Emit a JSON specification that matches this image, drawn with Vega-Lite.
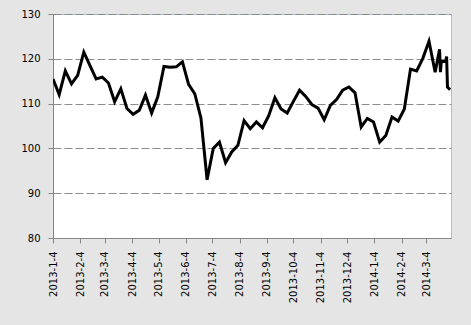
{
  "$schema": "https://vega.github.io/schema/vega-lite/v6.json",
  "width": 398,
  "height": 224,
  "autosize": {"type": "none"},
  "padding": {"left": 53, "top": 14, "right": 20, "bottom": 87},
  "background": "#E5E5E5",
  "config": {
    "view": {"fill": "white", "stroke": "#A7BDE4", "strokeWidth": 1},
    "axis": {"labelFont": "DejaVu Sans", "labelFontSize": 10, "labelColor": "#000000", "title": null}
  },
  "data": {
    "values": [
      {"date": "2013-01-04", "value": 115.5},
      {"date": "2013-01-11", "value": 112},
      {"date": "2013-01-18", "value": 117.3},
      {"date": "2013-01-25", "value": 114.4},
      {"date": "2013-02-01", "value": 116.3},
      {"date": "2013-02-08", "value": 121.5},
      {"date": "2013-02-15", "value": 118.5},
      {"date": "2013-02-22", "value": 115.5},
      {"date": "2013-03-01", "value": 115.9},
      {"date": "2013-03-08", "value": 114.6},
      {"date": "2013-03-15", "value": 110.4},
      {"date": "2013-03-22", "value": 113.3},
      {"date": "2013-03-29", "value": 108.9},
      {"date": "2013-04-05", "value": 107.6},
      {"date": "2013-04-12", "value": 108.5},
      {"date": "2013-04-19", "value": 111.9},
      {"date": "2013-04-26", "value": 107.9},
      {"date": "2013-05-03", "value": 111.5},
      {"date": "2013-05-10", "value": 118.3},
      {"date": "2013-05-17", "value": 118.1},
      {"date": "2013-05-24", "value": 118.2},
      {"date": "2013-05-31", "value": 119.3},
      {"date": "2013-06-07", "value": 114.3},
      {"date": "2013-06-14", "value": 112.2},
      {"date": "2013-06-21", "value": 106.8},
      {"date": "2013-06-28", "value": 93},
      {"date": "2013-07-05", "value": 100},
      {"date": "2013-07-12", "value": 101.4},
      {"date": "2013-07-19", "value": 96.8},
      {"date": "2013-07-26", "value": 99.2},
      {"date": "2013-08-02", "value": 100.7},
      {"date": "2013-08-09", "value": 106.2},
      {"date": "2013-08-16", "value": 104.4},
      {"date": "2013-08-23", "value": 105.9},
      {"date": "2013-08-30", "value": 104.6},
      {"date": "2013-09-06", "value": 107.3},
      {"date": "2013-09-13", "value": 111.3},
      {"date": "2013-09-20", "value": 108.8},
      {"date": "2013-09-27", "value": 107.9},
      {"date": "2013-10-04", "value": 110.5},
      {"date": "2013-10-11", "value": 113},
      {"date": "2013-10-18", "value": 111.6},
      {"date": "2013-10-25", "value": 109.8},
      {"date": "2013-11-01", "value": 109},
      {"date": "2013-11-08", "value": 106.4},
      {"date": "2013-11-15", "value": 109.6},
      {"date": "2013-11-22", "value": 110.9},
      {"date": "2013-11-29", "value": 113},
      {"date": "2013-12-06", "value": 113.7},
      {"date": "2013-12-13", "value": 112.4},
      {"date": "2013-12-20", "value": 104.8},
      {"date": "2013-12-27", "value": 106.7},
      {"date": "2014-01-03", "value": 105.9},
      {"date": "2014-01-10", "value": 101.4},
      {"date": "2014-01-17", "value": 102.9},
      {"date": "2014-01-24", "value": 107},
      {"date": "2014-01-31", "value": 106.1},
      {"date": "2014-02-07", "value": 108.8},
      {"date": "2014-02-14", "value": 117.7},
      {"date": "2014-02-21", "value": 117.3},
      {"date": "2014-02-28", "value": 120.1},
      {"date": "2014-03-07", "value": 123.9},
      {"date": "2014-03-14", "value": 117},
      {"date": "2014-03-19", "value": 122.1},
      {"date": "2014-03-20", "value": 117},
      {"date": "2014-03-21", "value": 119.4},
      {"date": "2014-03-26", "value": 119.4},
      {"date": "2014-03-27", "value": 120.5},
      {"date": "2014-03-28", "value": 113.7},
      {"date": "2014-03-31", "value": 113.1}
    ]
  },
  "mark": {"type": "line", "color": "#000000", "strokeWidth": 3, "clip": true},
  "encoding": {
    "x": {
      "field": "date",
      "type": "temporal",
      "scale": {
        "type": "utc",
        "domain": [
          {"year": 2013, "month": 1, "date": 4, "utc": true},
          {"year": 2014, "month": 4, "date": 1, "utc": true}
        ]
      },
      "axis": {
        "values": [
          {"year": 2013, "month": 1, "date": 4, "utc": true},
          {"year": 2013, "month": 2, "date": 4, "utc": true},
          {"year": 2013, "month": 3, "date": 4, "utc": true},
          {"year": 2013, "month": 4, "date": 4, "utc": true},
          {"year": 2013, "month": 5, "date": 4, "utc": true},
          {"year": 2013, "month": 6, "date": 4, "utc": true},
          {"year": 2013, "month": 7, "date": 4, "utc": true},
          {"year": 2013, "month": 8, "date": 4, "utc": true},
          {"year": 2013, "month": 9, "date": 4, "utc": true},
          {"year": 2013, "month": 10, "date": 4, "utc": true},
          {"year": 2013, "month": 11, "date": 4, "utc": true},
          {"year": 2013, "month": 12, "date": 4, "utc": true},
          {"year": 2014, "month": 1, "date": 4, "utc": true},
          {"year": 2014, "month": 2, "date": 4, "utc": true},
          {"year": 2014, "month": 3, "date": 4, "utc": true}
        ],
        "format": "%Y-%-m-%-d",
        "labelAngle": -90,
        "labelAlign": "right",
        "labelBaseline": "middle",
        "labelPadding": 8,
        "tickSize": 5,
        "tickColor": "#868686",
        "domainColor": "#868686",
        "grid": false,
        "labelOverlap": false,
        "labelFlush": false
      }
    },
    "y": {
      "field": "value",
      "type": "quantitative",
      "scale": {"domain": [80, 130], "nice": false, "zero": false},
      "axis": {
        "values": [80, 90, 100, 110, 120, 130],
        "tickSize": 5,
        "labelPadding": 8,
        "tickColor": "#868686",
        "domainColor": "#868686",
        "grid": true,
        "gridColor": "#8C8C8C",
        "gridDash": [8, 3],
        "gridWidth": 1,
        "labelFlush": false
      }
    }
  }
}
